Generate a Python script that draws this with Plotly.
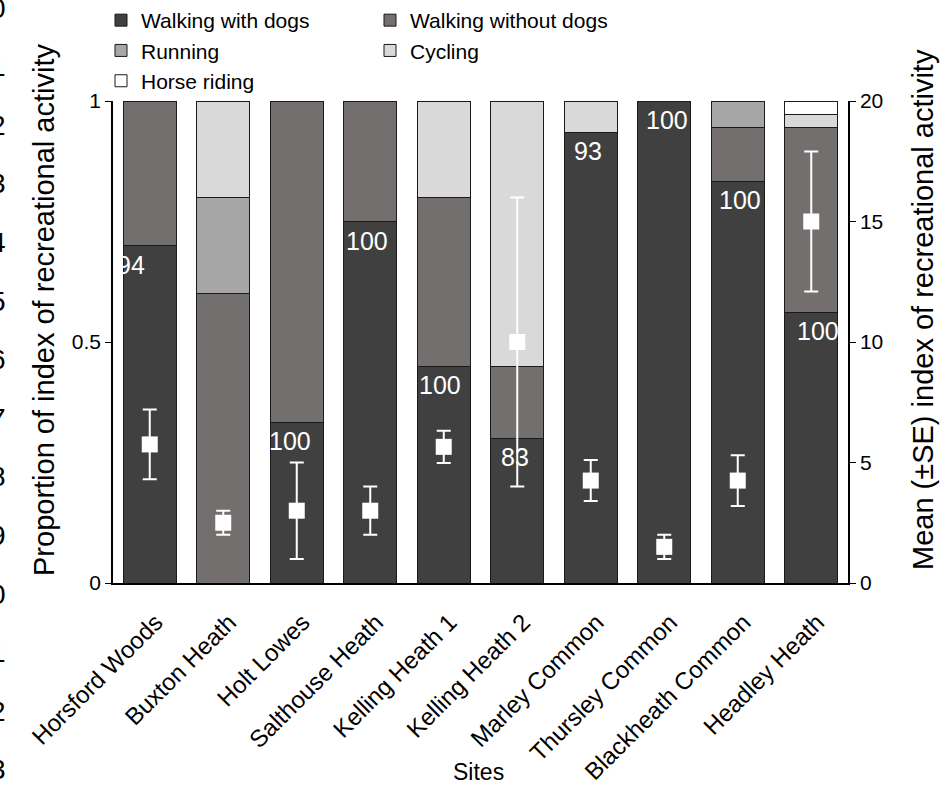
import plotly.graph_objects as go

sites = ["Horsford Woods", "Buxton Heath", "Holt Lowes", "Salthouse Heath", "Kelling Heath 1",
         "Kelling Heath 2", "Marley Common", "Thursley Common", "Blackheath Common", "Headley Heath"]

walk_dogs = [0.70, 0, 0.333, 0.75, 0.45, 0.30, 0.935, 1.0, 0.833, 0.562]
walk_nodogs = [0.30, 0.60, 0.667, 0.25, 0.35, 0.15, 0, 0, 0.111, 0.382]
running = [0, 0.20, 0, 0, 0, 0, 0, 0, 0.056, 0]
cycling = [0, 0.20, 0, 0, 0.20, 0.55, 0.065, 0, 0, 0.028]
horse_riding = [0, 0, 0, 0, 0, 0, 0, 0, 0, 0.028]

mean_index = [5.75, 2.5, 3.0, 3.0, 5.65, 10.0, 4.25, 1.5, 4.25, 15.0]
se_index = [1.45, 0.5, 2.0, 1.0, 0.67, 6.0, 0.85, 0.5, 1.05, 2.9]

pct_labels = ["94", "", "100", "100", "100", "83", "93", "100", "100", "100"]

left_ticks = [0, 0.5, 1]
right_ticks = [0, 5, 10, 15, 20]
margin_numbers = ["0", "1", "2", "3", "4", "5", "6", "7", "8", "9", "0", "1", "2", "3"]

# layout constants (pixels)
W, H = 940, 789
ML, MR, MT, MB = 113, 92, 101, 206
PW, PH = W - ML - MR, H - MT - MB


def px_x(p):
    return (p - ML) / PW


def px_y(p):
    return (H - MB - p) / PH


FONT = "Liberation Sans, Arial, sans-serif"
LINE = dict(color="#1a1a1a", width=1)

fig = go.Figure()
series = [
    ("Walking with dogs", walk_dogs, "#404040", "legend"),
    ("Walking without dogs", walk_nodogs, "#736f6e", "legend2"),
    ("Running", running, "#a6a6a6", "legend"),
    ("Cycling", cycling, "#d9d9d9", "legend2"),
    ("Horse riding", horse_riding, "#ffffff", "legend"),
]
for name, vals, col, lg in series:
    fig.add_trace(go.Bar(x=sites, y=vals, name=name, marker=dict(color=col, line=LINE),
                         width=0.72, legend=lg, yaxis="y"))

fig.add_trace(go.Scatter(x=sites, y=mean_index, yaxis="y2", mode="markers", showlegend=False,
                         marker=dict(symbol="square", size=16, color="white"),
                         error_y=dict(type="data", array=se_index, color="white", thickness=2, width=7)))

label_xshift = [-19, 0, -7, -3, -4, -2, -3, 3, 2, 7]
annotations = []
for i, (s, lab) in enumerate(zip(sites, pct_labels)):
    if lab:
        annotations.append(dict(x=s, y=walk_dogs[i], xref="x", yref="y", text=lab, showarrow=False,
                                yshift=-19, xshift=label_xshift[i], xanchor="center", yanchor="middle",
                                font=dict(family=FONT, size=25, color="white")))

annotations.append(dict(x=px_x(44), y=px_y(310), xref="paper", yref="paper",
                        text="Proportion of index of recreational activity", textangle=-90,
                        xanchor="center", yanchor="middle",
                        showarrow=False, font=dict(family=FONT, size=29, color="black")))
annotations.append(dict(x=px_x(923), y=px_y(309), xref="paper", yref="paper",
                        text="Mean (±SE) index of recreational activity", textangle=-90,
                        xanchor="center", yanchor="middle",
                        showarrow=False, font=dict(family=FONT, size=29, color="black")))
annotations.append(dict(x=px_x(478), y=px_y(772), xref="paper", yref="paper", text="Sites",
                        xanchor="center", yanchor="middle",
                        showarrow=False, font=dict(family=FONT, size=23, color="black")))
for k, t in enumerate(margin_numbers):
    annotations.append(dict(x=px_x(8), y=px_y(8 + 58.6 * k), xref="paper", yref="paper", text=t,
                            xanchor="right", yanchor="middle", showarrow=False,
                            font=dict(family=FONT, size=28, color="black")))

fig.update_layout(
    width=W, height=H,
    margin=dict(l=ML, r=MR, t=MT, b=MB, pad=0, autoexpand=False),
    barmode="stack",
    plot_bgcolor="white", paper_bgcolor="white",
    font=dict(family=FONT, color="black"),
    xaxis=dict(range=[-0.5, 9.5], showline=True, linecolor="black", linewidth=1.5, ticks="",
               tickangle=-45, tickfont=dict(size=24), ticklabelstandoff=14, ticklabelshift=6,
               showgrid=False, zeroline=False, automargin=False),
    yaxis=dict(range=[0, 1], tickvals=left_ticks, ticktext=["0", "0.5", "1"], showline=True,
               linecolor="black", linewidth=1.5, ticks="outside", ticklen=6, tickcolor="black",
               tickfont=dict(size=21), showgrid=False, zeroline=False, automargin=False),
    yaxis2=dict(range=[0, 20], tickvals=right_ticks, overlaying="y", side="right", showline=True,
                linecolor="black", linewidth=1.5, ticks="outside", ticklen=6, tickcolor="black",
                tickfont=dict(size=21), showgrid=False, zeroline=False, automargin=False),
    legend=dict(x=px_x(101), y=px_y(0), xanchor="left", yanchor="top", orientation="v",
                font=dict(size=21), bgcolor="rgba(0,0,0,0)", traceorder="normal"),
    legend2=dict(x=px_x(370), y=px_y(0), xanchor="left", yanchor="top", orientation="v",
                 font=dict(size=21), bgcolor="rgba(0,0,0,0)", traceorder="normal"),
    annotations=annotations,
)

fig.write_html("out.html")
